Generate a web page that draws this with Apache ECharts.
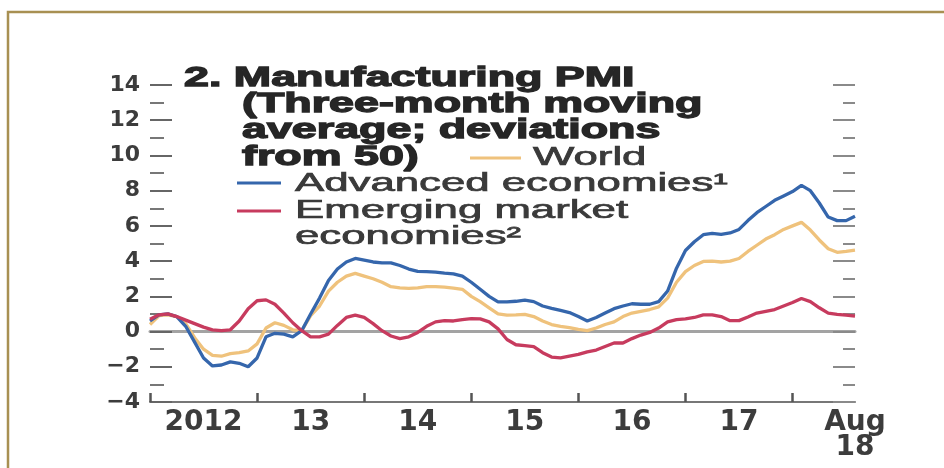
<!DOCTYPE html>
<html>
<head>
<meta charset="utf-8">
<script src="https://cdn.jsdelivr.net/npm/echarts@6/dist/echarts.min.js"></script>
<style>
html,body{margin:0;padding:0;background:#ffffff;}
#chart{width:944px;height:468px;}
</style>
</head>
<body>
<div id="chart"></div>
<script>
// Monthly categories, Jan 2012 – Aug 2018
var months = [
  '2012-01','2012-02','2012-03','2012-04','2012-05','2012-06','2012-07','2012-08','2012-09','2012-10','2012-11','2012-12',
  '2013-01','2013-02','2013-03','2013-04','2013-05','2013-06','2013-07','2013-08','2013-09','2013-10','2013-11','2013-12',
  '2014-01','2014-02','2014-03','2014-04','2014-05','2014-06','2014-07','2014-08','2014-09','2014-10','2014-11','2014-12',
  '2015-01','2015-02','2015-03','2015-04','2015-05','2015-06','2015-07','2015-08','2015-09','2015-10','2015-11','2015-12',
  '2016-01','2016-02','2016-03','2016-04','2016-05','2016-06','2016-07','2016-08','2016-09','2016-10','2016-11','2016-12',
  '2017-01','2017-02','2017-03','2017-04','2017-05','2017-06','2017-07','2017-08','2017-09','2017-10','2017-11','2017-12',
  '2018-01','2018-02','2018-03','2018-04','2018-05','2018-06','2018-07','2018-08'
];

// Tick labels shown under the x axis (mid-year) and at the end
var yearLabels = {'2012-07':'2012','2013-07':'13','2014-07':'14','2015-07':'15','2016-07':'16','2017-07':'17','2018-08':'Aug\n18'};

// Series values (deviations from 50)
var world = [
  0.4,0.9,0.95,0.85,0.45,-0.35,-1.0,-1.35,-1.4,-1.25,-1.2,-1.1,
  -0.7,0.2,0.5,0.35,0.1,0.05,0.9,1.45,2.3,2.8,3.15,3.3,
  3.15,3.0,2.8,2.55,2.48,2.45,2.48,2.55,2.55,2.52,2.47,2.4,
  2.0,1.7,1.35,1.0,0.93,0.95,0.98,0.85,0.6,0.4,0.3,0.22,
  0.12,0.05,0.2,0.4,0.55,0.85,1.05,1.15,1.25,1.4,1.9,2.8,
  3.4,3.75,3.98,4.0,3.95,4.0,4.15,4.55,4.9,5.25,5.5,5.8,
  6.0,6.2,5.76,5.2,4.7,4.5,4.55,4.62
];
var advanced = [
  0.6,0.95,1.0,0.85,0.3,-0.6,-1.5,-1.95,-1.9,-1.72,-1.8,-2.0,
  -1.5,-0.3,-0.1,-0.15,-0.3,0.05,1.0,1.9,2.9,3.55,3.95,4.15,
  4.05,3.95,3.9,3.9,3.75,3.55,3.42,3.4,3.38,3.32,3.28,3.15,
  2.8,2.4,2.0,1.68,1.68,1.72,1.78,1.7,1.45,1.32,1.2,1.08,
  0.85,0.6,0.8,1.05,1.3,1.45,1.58,1.55,1.55,1.7,2.3,3.6,
  4.6,5.1,5.5,5.58,5.52,5.6,5.8,6.3,6.75,7.1,7.45,7.7,
  7.95,8.3,8.0,7.3,6.5,6.3,6.3,6.55
];
var emerging = [
  0.7,0.95,1.0,0.85,0.65,0.45,0.25,0.1,0.05,0.1,0.6,1.3,
  1.75,1.8,1.55,1.05,0.5,0.05,-0.3,-0.3,-0.15,0.35,0.8,0.93,
  0.8,0.45,0.05,-0.25,-0.4,-0.3,-0.05,0.3,0.55,0.62,0.6,0.68,
  0.73,0.72,0.55,0.15,-0.45,-0.75,-0.8,-0.85,-1.2,-1.45,-1.5,-1.4,
  -1.3,-1.15,-1.05,-0.85,-0.65,-0.65,-0.4,-0.2,-0.05,0.2,0.55,0.68,
  0.72,0.8,0.95,0.95,0.85,0.62,0.62,0.83,1.05,1.15,1.25,1.45,
  1.65,1.88,1.7,1.35,1.05,0.98,0.93,0.87
];

var seriesNames = ['World', 'Advanced economies\u00B9', 'Emerging market economies\u00B2'];
var titleLines = ['2. Manufacturing PMI', '(Three-month moving', 'average; deviations', 'from 50)'];

var COL_WORLD = '#EFC27C', COL_ADV = '#3566AC', COL_EM = '#C73B5E';
var TXT = '#262626';
var LEG = '#3a3a3a';
var titleFont = 'bold 28px "Liberation Sans", Arial, sans-serif';
var legFont = '25px "Liberation Sans", Arial, sans-serif';

function yFmt(v){ return v < 0 ? '\u2212' + Math.abs(v) : String(v); }

function tText(x, y, s){
  return {type:'text', x:x, y:y, scaleX:1.6, silent:true,
    style:{text:s, font:titleFont, fill:TXT, stroke:TXT, lineWidth:1.3, verticalAlign:'middle', align:'left'}};
}
function lText(x, y, s){
  return {type:'text', x:x, y:y, scaleX:1.75, silent:true,
    style:{text:s, font:legFont, fill:LEG, stroke:LEG, lineWidth:0.7, verticalAlign:'middle', align:'left'}};
}

var chart = echarts.init(document.getElementById('chart'), null, {renderer:'canvas'});
var option = {
  animation: false,
  backgroundColor: '#ffffff',
  grid: {left:150, right:89, top:85, bottom:66, containLabel:false},
  xAxis: [{
    type:'category', data: months, boundaryGap:false, position:'bottom',
    axisLine:{show:true, onZero:false, lineStyle:{color:'#777', width:2}},
    axisTick:{show:true, inside:true, length:9, interval:function(i){return i % 12 === 0;}, lineStyle:{color:'#555', width:2.5}},
    axisLabel:{
      show:true, interval:function(i, v){ return yearLabels[v] !== undefined; },
      formatter:function(v){ return yearLabels[v] || ''; },
      margin:8, color:'#3c3c3c', fontFamily:'"DejaVu Sans", sans-serif', fontWeight:'bold', fontSize:28, lineHeight:25
    },
    splitLine:{show:false}
  },{
    type:'category', data: months, boundaryGap:false, position:'top',
    axisLine:{show:true, onZero:true, onZeroAxisIndex:0, lineStyle:{color:'#a3a3a3', width:3}},
    axisTick:{show:false}, axisLabel:{show:false}, splitLine:{show:false}
  }],
  yAxis: [{
    type:'value', min:-4, max:14, interval:2, position:'left',
    axisLine:{show:false},
    axisTick:{show:true, inside:true, length:22, lineStyle:{color:'#666', width:2}},
    minorTick:{show:true, splitNumber:2, length:14, lineStyle:{color:'#777', width:2}},
    axisLabel:{show:true, margin:10, formatter:yFmt, color:'#3c3c3c', fontFamily:'"DejaVu Sans", sans-serif', fontWeight:'bold', fontSize:22},
    splitLine:{show:false}, minorSplitLine:{show:false}
  },{
    type:'value', min:-4, max:14, interval:2, position:'right',
    axisLine:{show:false},
    axisTick:{show:true, inside:true, length:22, lineStyle:{color:'#8a8a8a', width:2}},
    minorTick:{show:true, splitNumber:2, length:12, lineStyle:{color:'#8a8a8a', width:2}},
    axisLabel:{show:false},
    splitLine:{show:false}, minorSplitLine:{show:false}
  }],
  series: [
    {name:seriesNames[0], type:'line', data:world, xAxisIndex:0, yAxisIndex:0, symbol:'none', lineStyle:{color:COL_WORLD, width:3.3}, itemStyle:{color:COL_WORLD}, z:3},
    {name:seriesNames[1], type:'line', data:advanced, xAxisIndex:0, yAxisIndex:0, symbol:'none', lineStyle:{color:COL_ADV, width:3.3}, itemStyle:{color:COL_ADV}, z:4},
    {name:seriesNames[2], type:'line', data:emerging, xAxisIndex:0, yAxisIndex:0, symbol:'none', lineStyle:{color:COL_EM, width:3.3}, itemStyle:{color:COL_EM}, z:5}
  ],
  graphic: [
    {type:'polyline', silent:true, shape:{points:[[8,468],[8,12],[944,12]]}, style:{stroke:'#A89052', lineWidth:2.5, fill:null}},
    tText(184, 78, titleLines[0]),
    tText(242, 104, titleLines[1]),
    tText(242, 130, titleLines[2]),
    tText(242, 157, titleLines[3]),
    {type:'line', silent:true, shape:{x1:470, y1:158, x2:521, y2:158}, style:{stroke:COL_WORLD, lineWidth:3}},
    lText(533, 158, 'World'),
    {type:'line', silent:true, shape:{x1:237, y1:183, x2:281, y2:183}, style:{stroke:COL_ADV, lineWidth:3}},
    lText(295, 184, 'Advanced economies\u00B9'),
    {type:'line', silent:true, shape:{x1:237, y1:211, x2:281, y2:211}, style:{stroke:COL_EM, lineWidth:3}},
    lText(295, 211, 'Emerging market'),
    lText(295, 237, 'economies\u00B2')
  ]
};
chart.setOption(option);
</script>
</body>
</html>
